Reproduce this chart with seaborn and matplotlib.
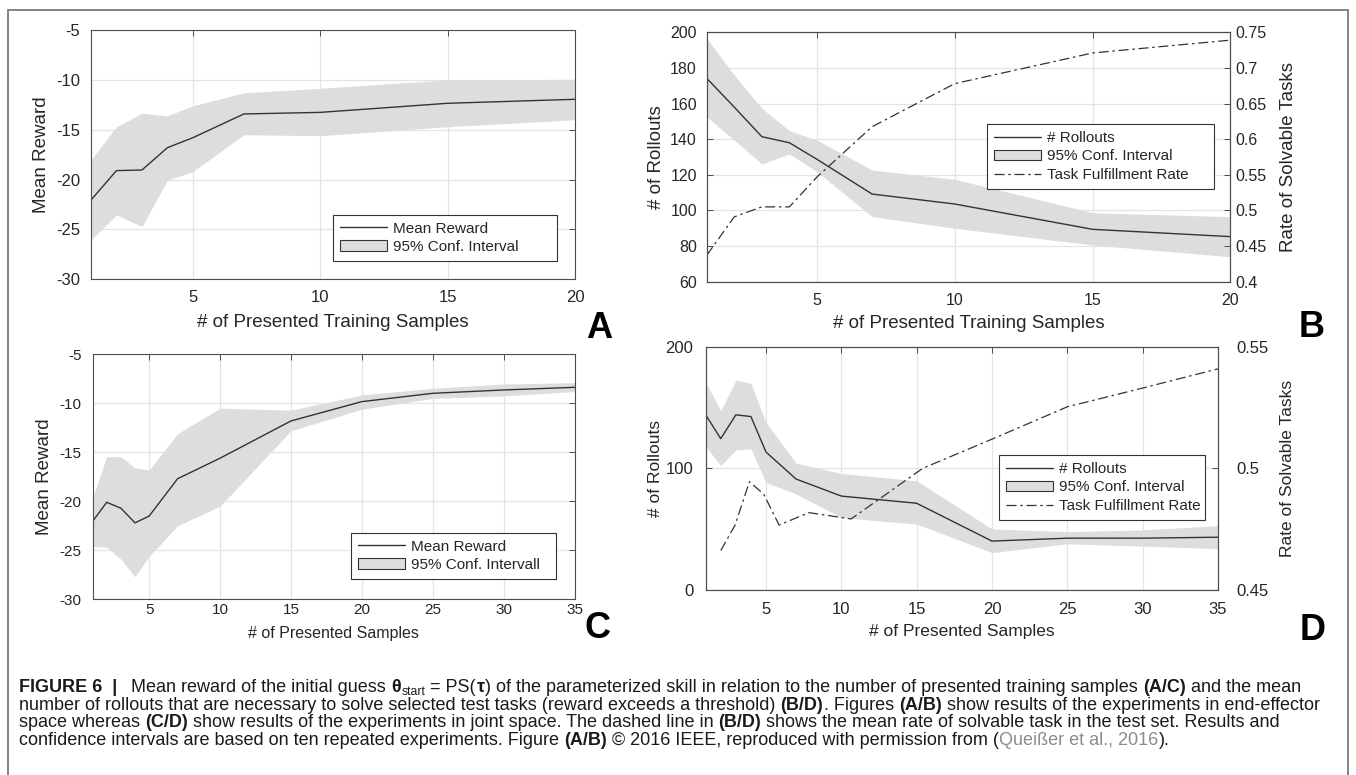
"""Figure 6: mean reward and number of rollouts vs. presented samples (panels A-D)."""

import matplotlib

matplotlib.use("Agg")
import matplotlib.pyplot as plt
from matplotlib.lines import Line2D
from matplotlib.patches import Patch, Rectangle
import seaborn as sns

# ---- data ----
# A: end-effector space, mean reward
a_x = [1, 2, 3, 4, 5, 7, 10, 15, 20]
a_mean = [-22.05, -19.1, -19.04, -16.8, -15.8, -13.42, -13.26, -12.35, -11.95]
a_upper = [-18.0, -14.7, -13.35, -13.6, -12.6, -11.3, -10.85, -10.0, -9.95]
a_lower = [-26.05, -23.55, -24.7, -20.05, -19.2, -15.5, -15.6, -14.7, -14.0]

# B: end-effector space, rollouts + task fulfillment rate
b_x = [1, 2, 3, 4, 5, 7, 10, 15, 20]
b_mean = [174.2, 158.0, 141.4, 138.0, 128.7, 109.2, 103.6, 89.4, 85.3]
b_upper = [196.6, 176.0, 157.3, 144.8, 139.5, 122.7, 117.5, 98.7, 96.5]
b_lower = [152.6, 139.5, 126.1, 131.7, 121.8, 96.5, 90.0, 80.6, 74.0]
b_rate = [0.437, 0.491, 0.505, 0.505, 0.547, 0.6175, 0.678, 0.721, 0.739]

# C: joint space, mean reward
c_x = [1, 2, 3, 4, 5, 7, 10, 15, 20, 25, 30, 35]
c_mean = [-22.07, -20.1, -20.7, -22.2, -21.5, -17.7, -15.6, -11.8, -9.83, -8.98, -8.64, -8.37]
c_upper = [-19.7, -15.45, -15.45, -16.6, -16.8, -13.1, -10.5, -10.7, -9.15, -8.47, -8.03, -7.9]
c_lower = [-24.6, -24.7, -25.9, -27.7, -25.6, -22.5, -20.5, -12.8, -10.6, -9.5, -9.25, -8.8]

# D: joint space, rollouts + task fulfillment rate
d_x = [1, 2, 3, 4, 5, 7, 10, 15, 20, 25, 30, 35]
d_mean = [144.0, 124.4, 144.0, 142.6, 113.4, 91.2, 77.2, 71.3, 40.2, 42.6, 42.6, 43.4]
d_upper = [170.5, 147.5, 172.5, 169.8, 137.7, 104.3, 95.8, 89.8, 50.2, 48.0, 49.4, 52.9]
d_lower = [118.0, 102.3, 115.1, 116.0, 88.4, 79.0, 59.5, 54.2, 30.7, 38.0, 36.1, 34.0]
d_rate_x = [2, 2.95, 3.9, 4.85, 5.87, 7.85, 10.65, 15.4, 20, 25, 30, 35]
d_rate = [0.4662, 0.4767, 0.4945, 0.4894, 0.4767, 0.4818, 0.4792, 0.5, 0.512, 0.5253, 0.533, 0.5409]

# caption runs: (text, kind) with kind in normal / bold / sub / link
caption_lines = [
    [("FIGURE 6  |", "bold"), ("   Mean reward of the initial guess ", "normal"), ("θ", "bold"),
     ("start", "sub"), (" = PS(", "normal"), ("τ", "bold"),
     (") of the parameterized skill in relation to the number of presented training samples ", "normal"),
     ("(A/C)", "bold"), (" and the mean", "normal")],
    [("number of rollouts that are necessary to solve selected test tasks (reward exceeds a threshold) ", "normal"),
     ("(B/D)", "bold"), (". Figures ", "normal"), ("(A/B)", "bold"),
     (" show results of the experiments in end-effector", "normal")],
    [("space whereas ", "normal"), ("(C/D)", "bold"),
     (" show results of the experiments in joint space. The dashed line in ", "normal"),
     ("(B/D)", "bold"), (" shows the mean rate of solvable task in the test set. Results and", "normal")],
    [("confidence intervals are based on ten repeated experiments. Figure ", "normal"), ("(A/B)", "bold"),
     (" © 2016 IEEE, reproduced with permission from (", "normal"), ("Queißer et al., 2016", "link"),
     (").", "normal")],
]

LINE = "#333333"
BAND = "#dddddd"
TXT = "#262626"
W, H = 1356, 775


def px_rect(left, top, right, bottom):
    return [left / W, 1 - bottom / H, (right - left) / W, (bottom - top) / H]


def style_axes(ax, tick_size, pad):
    ax.grid(True, color="#e4e4e4", linewidth=0.9)
    ax.set_axisbelow(True)
    for sp in ax.spines.values():
        sp.set_color("#4d4d4d")
        sp.set_linewidth(0.8)
    ax.tick_params(direction="in", length=4, width=0.7, color="#4d4d4d",
                   labelsize=tick_size, labelcolor=TXT, pad=pad)


def legend(ax, labels, with_rate, box, loc):
    handles = [Line2D([], [], color=LINE, lw=1.0),
               Patch(facecolor=BAND, edgecolor=LINE, linewidth=0.8)]
    if with_rate:
        handles.append(Line2D([], [], color=LINE, lw=0.9, linestyle=(0, (8, 3, 2, 3))))
    leg = ax.legend(handles, labels, loc=loc, bbox_to_anchor=box, mode="expand", frameon=True,
                    fancybox=False, framealpha=1, edgecolor=LINE, fontsize=11,
                    handlelength=3.1, handletextpad=0.4, labelspacing=0.3,
                    borderpad=0.45, borderaxespad=0)
    leg.get_frame().set_linewidth(0.8)
    for t in leg.get_texts():
        t.set_color(TXT)
    return leg


def reward_panel(fig, rect, x, mean, lower, upper, xmax, xlab, xlab_size, tick_size,
                 xpad, xlabpad, labels, box):
    ax = fig.add_axes(rect)
    ax.fill_between(x, lower, upper, color=BAND, linewidth=0)
    sns.lineplot(x=x, y=mean, ax=ax, color=LINE, linewidth=1.0)
    ax.set_xlim(1, xmax)
    ax.set_ylim(-30, -5)
    ax.set_xticks(list(range(5, xmax + 1, 5)))
    ax.set_yticks([-30, -25, -20, -15, -10, -5])
    style_axes(ax, tick_size, 8)
    ax.tick_params(axis="x", pad=xpad)
    ax.tick_params(top=True, right=True)
    ax.set_xlabel(xlab, fontsize=xlab_size, color=TXT, labelpad=xlabpad)
    ax.set_ylabel("Mean Reward", fontsize=13.5, color=TXT, labelpad=4.5)
    legend(ax, labels, False, box, "lower left")
    return ax


def rollout_panel(fig, rect, x, mean, lower, upper, rate_x, rate, xmax, ylim, yticks,
                  rlim, rticks, xlab, xlab_size, lab_size, tick_size, xpad, xlabpad, lpad,
                  rpad, rlabpad, llabpad, box):
    ax = fig.add_axes(rect)
    ax.fill_between(x, lower, upper, color=BAND, linewidth=0)
    sns.lineplot(x=x, y=mean, ax=ax, color=LINE, linewidth=1.0)
    ax.set_xlim(1, xmax)
    ax.set_ylim(*ylim)
    ax.set_xticks(list(range(5, xmax + 1, 5)))
    ax.set_yticks(yticks)
    style_axes(ax, tick_size, lpad)
    ax.tick_params(axis="x", pad=xpad, top=True)
    ax.set_xlabel(xlab, fontsize=xlab_size, color=TXT, labelpad=xlabpad)
    ax.set_ylabel("# of Rollouts", fontsize=lab_size, color=TXT, labelpad=llabpad)

    ax2 = ax.twinx()
    sns.lineplot(x=rate_x, y=rate, ax=ax2, color=LINE, linewidth=0.9,
                 linestyle=(0, (8, 3, 2, 3)))
    ax2.set_ylim(*rlim)
    ax2.set_yticks(rticks)
    ax2.set_yticklabels([f"{v:g}" for v in rticks])
    ax2.grid(False)
    for sp in ax2.spines.values():
        sp.set_color("#4d4d4d")
        sp.set_linewidth(0.8)
    ax2.tick_params(direction="in", length=4, width=0.7, color="#4d4d4d",
                    labelsize=tick_size, labelcolor=TXT, pad=rpad)
    ax2.set_ylabel("Rate of Solvable Tasks", fontsize=lab_size, color=TXT, labelpad=rlabpad)
    legend(ax2, ["# Rollouts", "95% Conf. Interval", "Task Fulfillment Rate"], True,
           box, "upper left")
    return ax, ax2


def draw_runs(fig, renderer, x, base, runs, size):
    """Lay out a caption line run by run (mixed weights/colours)."""
    px = size * 100 / 72
    space = 0.25 * px
    artists = []
    for text, kind in runs:
        lead = len(text) - len(text.lstrip(" "))
        trail = len(text) - len(text.rstrip(" "))
        body = text.strip(" ")
        x += lead * space
        if body:
            kw = dict(fontsize=size, color="#1a1a1a", va="baseline")
            y = base
            if kind == "bold":
                kw["fontweight"] = "bold"
            elif kind == "link":
                kw["color"] = "#8c8c8c"
            elif kind == "sub":
                kw["fontsize"] = size * 0.68
                y = base + 0.16 * px
            t = fig.text(x / W, 1 - y / H, body, **kw)
            artists.append(t)
            x = t.get_window_extent(renderer).x1 + 0.03 * px
        x += trail * space
    return artists, x


sns.set_theme(style="white")
plt.rcParams["font.family"] = ["Liberation Sans", "DejaVu Sans"]
plt.rcParams["axes.unicode_minus"] = False

fig = plt.figure(figsize=(W / 100, H / 100), dpi=100)

# legend boxes given as (x0, y0, width, height) in axes fractions
reward_panel(fig, px_rect(91, 30, 575, 279.3), a_x, a_mean, a_lower, a_upper, 20,
             "# of Presented Training Samples", 13.5, 12, 8, 6.5,
             ["Mean Reward", "95% Conf. Interval"], (0.5, 0.0734, 0.4628, 0.1925))
rollout_panel(fig, px_rect(706.7, 32.3, 1230.5, 281.7), b_x, b_mean, b_lower, b_upper,
              b_x, b_rate, 20, (60, 200), list(range(60, 201, 20)),
              (0.4, 0.75), [0.4, 0.45, 0.5, 0.55, 0.6, 0.65, 0.7, 0.75],
              "# of Presented Training Samples", 13.5, 13.5, 11.5, 8, 5.5, 7, 3.5, 10, 3.5,
              (0.5351, 0.3757, 0.4334, 0.2566))
reward_panel(fig, px_rect(92.5, 354.3, 574.5, 599.3), c_x, c_mean, c_lower, c_upper, 35,
             "# of Presented Samples", 11.5, 11, 3, 6,
             ["Mean Reward", "95% Conf. Intervall"], (0.5363, 0.0829, 0.4253, 0.196))
rollout_panel(fig, px_rect(705.7, 346.7, 1218, 590), d_x, d_mean, d_lower, d_upper,
              d_rate_x, d_rate, 35, (0, 200), [0, 100, 200],
              (0.45, 0.55), [0.45, 0.5, 0.55],
              "# of Presented Samples", 12.5, 12.5, 12, 9, 5, 9, 13, 8.5, 1.5,
              (0.5725, 0.2919, 0.4021, 0.263))

for letter, cx, base in [("A", 599, 337.5), ("B", 1312, 337), ("C", 598, 638), ("D", 1313, 640)]:
    fig.text(cx / W, 1 - base / H, letter, fontsize=26, fontweight="bold",
             ha="center", va="baseline", color="black")

# outer frame around the whole figure + caption
fig.add_artist(Rectangle((7.5 / W, -0.02), (1348 - 7.5) / W, 1.02 - 9.5 / H,
                         transform=fig.transFigure, fill=False,
                         edgecolor="#7a7a7a", linewidth=1.3))

# caption: scale the font so the first line spans the same width as in the reference
renderer = fig.canvas.get_renderer()
cap_x = 19
probe, x_end = draw_runs(fig, renderer, cap_x, 700, caption_lines[0], 10)
cap_size = 10 * 1288 / (x_end - cap_x)
for t in probe:
    t.remove()

baselines = [692, 709.6, 727.2, 744.8]
for runs, base in zip(caption_lines, baselines):
    draw_runs(fig, renderer, cap_x, base, runs, cap_size)

fig.savefig("out.png", dpi=100)
